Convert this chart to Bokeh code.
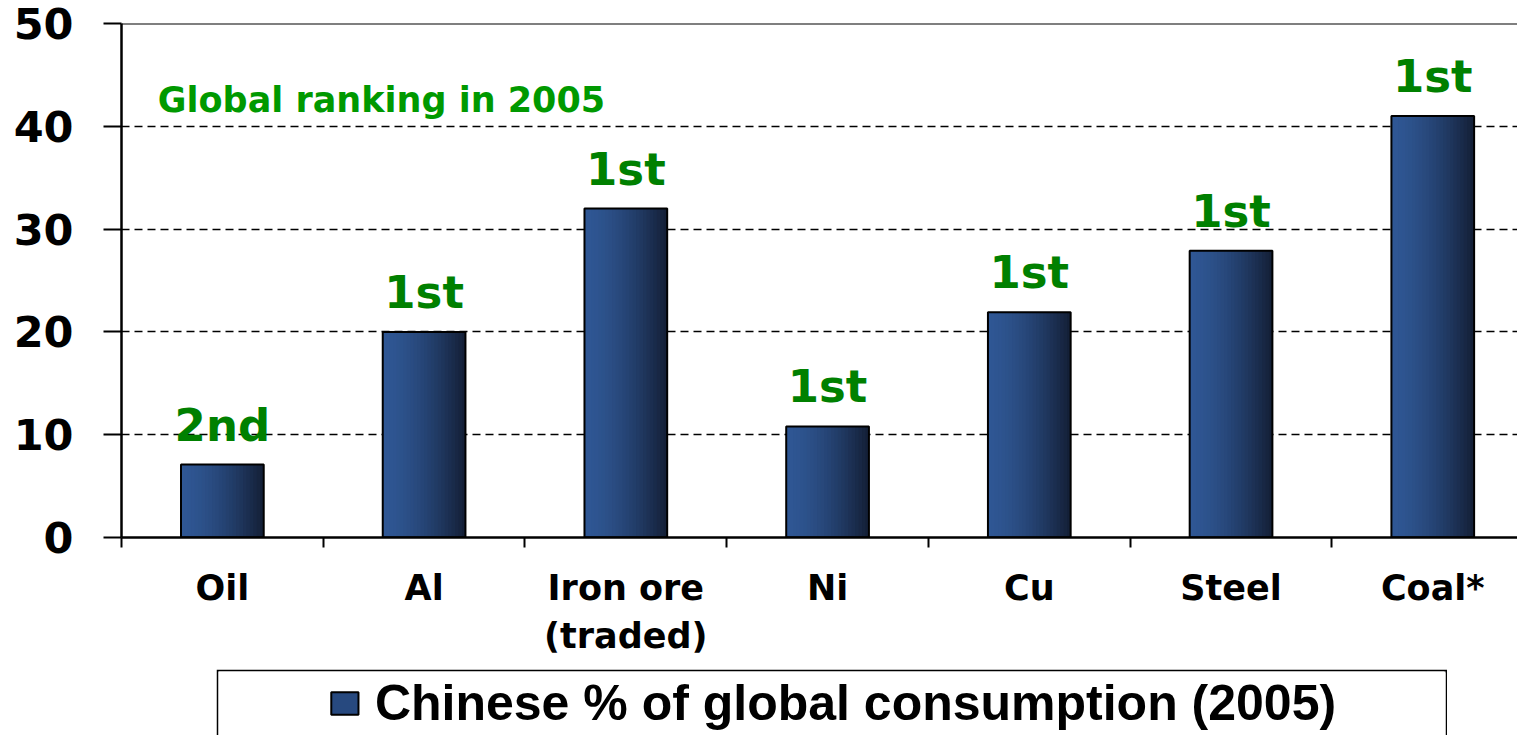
from bokeh.plotting import figure
from bokeh.models import (Range1d, FixedTicker, ColumnDataSource, LabelSet, Label,
                          Span, Legend, LegendItem, Spacer)
from bokeh.layouts import column, row
from bokeh.core.properties import value
from bokeh.embed import file_html
from bokeh.resources import INLINE

categories = ["Oil", "Al", "Iron ore\n(traded)", "Ni", "Cu", "Steel", "Coal*"]
values = [7.1, 20.0, 32.0, 10.8, 21.9, 27.9, 41.0]
ranks = ["2nd", "1st", "1st", "1st", "1st", "1st", "1st"]
y_ticks = [0, 10, 20, 30, 40, 50]
series_name = "Chinese % of global consumption (2005)"
annotation = "Global ranking in 2005"

FONT = "DejaVu Sans"
GREEN_DARK = "#008000"
GREEN = "#009900"

n = len(categories)
xs = list(range(n))

p = figure(width=1517, height=669, output_backend="svg", toolbar_location=None,
           x_range=Range1d(-0.5, 6.42), y_range=Range1d(0, 50),
           min_border_left=121, min_border_right=0, min_border_top=23,
           min_border_bottom=132, outline_line_color=None,
           background_fill_color="white", border_fill_color="white")

# gradient bars drawn as thin overlapping strips
bar_w = 0.41
N = 24
c0 = (0x2f, 0x57, 0x94)
c1 = (0x13, 0x1e, 0x35)
ql, qr, qt, qc = [], [], [], []
for i, v in zip(xs, values):
    left = i - bar_w / 2
    step = bar_w / N
    for k in range(N):
        t = ((k + 0.5) / N) ** 1.6
        col = "#%02x%02x%02x" % tuple(int(round(a + (b - a) * t)) for a, b in zip(c0, c1))
        ql.append(left + k * step)
        qr.append(min(left + (k + 2) * step, left + bar_w))
        qt.append(v)
        qc.append(col)
p.quad(left=ql, right=qr, top=qt, bottom=0, fill_color=qc, line_color=None)
p.vbar(x=xs, top=values, width=bar_w, bottom=0, fill_alpha=0, line_color="black", line_width=2)

# grid
p.xgrid.visible = False
p.ygrid.ticker = FixedTicker(ticks=[10, 20, 30, 40])
p.ygrid.grid_line_color = "black"
p.ygrid.grid_line_dash = "8 5"
p.ygrid.grid_line_width = 1.5
p.add_layout(Span(location=50, dimension="width", line_color="black", line_width=2))

# y axis
ya = p.yaxis[0]
ya.ticker = FixedTicker(ticks=y_ticks)
ya.axis_line_width = 2.5
ya.axis_line_color = "black"
ya.major_tick_out = 18
ya.major_tick_in = 0
ya.major_tick_line_width = 2
ya.minor_tick_line_color = None
ya.major_label_standoff = 30
ya.major_label_text_font = FONT
ya.major_label_text_font_style = "bold"
ya.major_label_text_font_size = "43px"
ya.major_label_text_color = "black"

# x axis
xa = p.xaxis[0]
xa.ticker = FixedTicker(ticks=xs, minor_ticks=[i - 0.5 for i in range(n + 1)])
xa.major_label_overrides = {i: c for i, c in zip(xs, categories)}
xa.axis_line_width = 2.5
xa.axis_line_color = "black"
xa.major_tick_out = 0
xa.major_tick_in = 0
xa.major_tick_line_color = None
xa.minor_tick_out = 10
xa.minor_tick_in = 0
xa.minor_tick_line_width = 2
xa.minor_tick_line_color = "black"
xa.major_label_standoff = 20
xa.major_label_text_font = FONT
xa.major_label_text_font_style = "bold"
xa.major_label_text_font_size = "35px"
xa.major_label_text_color = "black"

# rank labels
src = ColumnDataSource(dict(x=xs, y=values, t=ranks))
p.add_layout(LabelSet(x="x", y="y", text="t", source=src, y_offset=24,
                      text_align="center", text_baseline="alphabetic",
                      text_font=value(FONT), text_font_style="bold", text_font_size="45px",
                      text_color=GREEN_DARK))
p.add_layout(Label(x=-0.32, y=42.6, text=annotation, text_font=FONT,
                   text_font_style="bold", text_font_size="35px", text_color=GREEN,
                   text_baseline="alphabetic"))

# legend box figure
lf = figure(width=1231, height=66, output_backend="svg", toolbar_location=None,
            x_range=Range1d(0, 1), y_range=Range1d(0, 1),
            x_axis_type=None, y_axis_type=None,
            min_border_left=2, min_border_right=2, min_border_top=2, min_border_bottom=0,
            border_fill_color="black", background_fill_color="white",
            outline_line_color=None)
lf.grid.visible = False
dummy = lf.vbar(x=[5], top=[5], bottom=[4], width=0.1, fill_color="#27497f",
                line_color="black", line_width=2)
leg = Legend(items=[LegendItem(label=series_name, renderers=[dummy])],
             location="center", border_line_alpha=0, background_fill_alpha=0,
             glyph_width=34, glyph_height=28, label_standoff=14, padding=0, margin=0,
             label_text_font="Liberation Sans", label_text_font_style="bold",
             label_text_font_size="50px", label_text_color="black")
lf.add_layout(leg, "center")

layout = column(p, row(Spacer(width=216, height=66), lf))
open("out.html", "w").write(file_html(layout, INLINE))
